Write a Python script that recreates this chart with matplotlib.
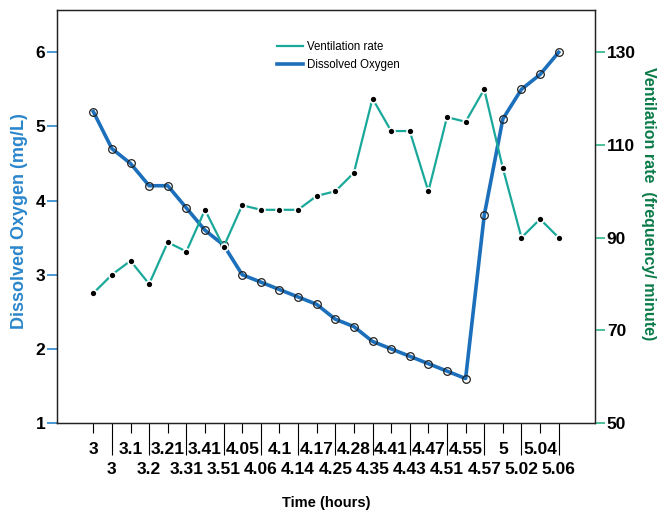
import matplotlib
matplotlib.use("Agg")
import matplotlib.pyplot as plt
from matplotlib.lines import Line2D
import numpy as np

plt.rcParams['font.family'] = ['Liberation Sans', 'DejaVu Sans']
narrow = ['Liberation Sans Narrow', 'Liberation Sans', 'DejaVu Sans']

# sampling times (hours); even entries go on the upper label row, odd ones below
time_labels = ['3', '3', '3.1', '3.2', '3.21', '3.31', '3.41', '3.51', '4.05', '4.06',
               '4.1', '4.14', '4.17', '4.25', '4.28', '4.35', '4.41', '4.43', '4.47', '4.51',
               '4.55', '4.57', '5', '5.02', '5.04', '5.06']
dissolved_oxygen = [5.2, 4.7, 4.5, 4.2, 4.2, 3.9, 3.6, 3.4, 3.0, 2.9,
                    2.8, 2.7, 2.6, 2.4, 2.3, 2.1, 2.0, 1.9, 1.8, 1.7,
                    1.6, 3.8, 5.1, 5.5, 5.7, 6.0]
ventilation_rate = [78, 82, 85, 80, 89, 87, 96, 88, 97, 96,
                    96, 96, 99, 100, 104, 120, 113, 113, 100, 116,
                    115, 122, 105, 90, 94, 90]

do_color = '#1b6fbb'
vent_color = '#1aa89a'
do_label_color = '#2a86cc'
vent_label_color = '#0a7a48'

x = np.arange(len(time_labels))

fig = plt.figure(figsize=(6.68, 5.12), dpi=100)
ax = fig.add_axes([0.0853, 0.1738, 0.8054, 0.8067])
ax2 = ax.twinx()

ax.plot(x, dissolved_oxygen, color=do_color, lw=2.6, marker='o', ms=5.5,
        mfc='none', mec='#222222', mew=0.9, zorder=3)
ax2.plot(x, ventilation_rate, color=vent_color, lw=1.6, marker='o', ms=5,
         mfc='black', mec='white', mew=1.2, zorder=3)

ax.set_xlim(-1.95, 26.95)
ax.set_ylim(1, 6.57)
ax2.set_ylim(50, 130 + 0.57 * 16)
ax.set_yticks([1, 2, 3, 4, 5, 6])
ax2.set_yticks([50, 70, 90, 110, 130])

# two staggered rows of time labels
ax.set_xticks(x[::2], labels=time_labels[::2])
ax.set_xticks(x[1::2], labels=time_labels[1::2], minor=True)
ax.tick_params(axis='x', which='major', length=7.5, width=0.8, pad=6)
ax.tick_params(axis='x', which='minor', length=23, width=0.8, pad=5)
for lab in ax.get_xticklabels(which='both'):
    lab.set_fontweight('bold')
    lab.set_fontsize(12.5)
    lab.set_family(narrow)

ax.tick_params(axis='y', length=7, width=1.2, color=do_label_color, pad=1.5, labelsize=12.5)
ax2.tick_params(axis='y', length=7, width=1.2, color='#2fb58a', pad=1.5, labelsize=12.5)
for lab in ax.get_yticklabels() + ax2.get_yticklabels():
    lab.set_fontweight('bold')
    lab.set_family(narrow)

for a in (ax, ax2):
    for s in a.spines.values():
        s.set_linewidth(0.9)
        s.set_color('#222222')

ax.set_ylabel('Dissolved Oxygen (mg/L)', color=do_label_color, fontsize=13,
              fontweight='bold')
ax.yaxis.set_label_coords(-0.054, 0.49)
ax2.set_ylabel('Ventilation rate  (frequency/ minute)', color=vent_label_color, fontsize=11.5,
               fontweight='bold', rotation=-90, va='center')
ax2.yaxis.set_label_coords(1.1, 0.53)
ax.set_xlabel('Time (hours)', fontsize=10.5, fontweight='bold')
ax.xaxis.set_label_coords(0.5, -0.177)

# plain line keys, no markers
handles = [Line2D([], [], color=vent_color, lw=1.6),
           Line2D([], [], color=do_color, lw=2.6)]
ax2.legend(handles, ['Ventilation rate', 'Dissolved Oxygen'], loc='upper left',
           bbox_to_anchor=(0.39, 0.95), frameon=False, fontsize=8.3, handlelength=2.2,
           handletextpad=0.4, labelspacing=0.55)

fig.savefig('out.png', dpi=100)
